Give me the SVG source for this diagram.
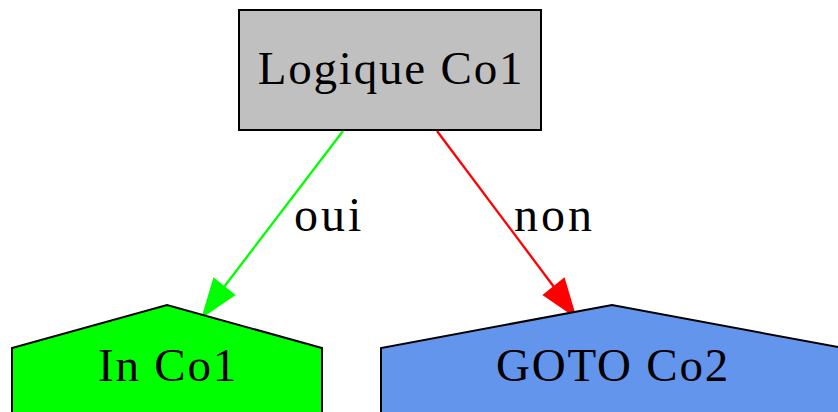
<svg xmlns="http://www.w3.org/2000/svg" width="838" height="412" viewBox="0 0 838 412">
<style>
.lbl{font-family:"Liberation Serif","DejaVu Serif",serif;font-size:47px;fill:#000;text-anchor:middle;letter-spacing:1.8px}
.elbl{font-family:"Liberation Serif","DejaVu Serif",serif;font-size:48px;fill:#000;letter-spacing:3px}
.node{stroke:#000;stroke-width:2}
.edge{fill:none;stroke-width:2.3}
</style>
<rect width="838" height="412" fill="#fff"/>
<g id="edges">
<path class="edge" d="M343,131 L224,287" stroke="#00ff00"/>
<polygon points="234,295 214,279 203,316" fill="#00ff00" stroke="#00ff00" stroke-width="2"/>
<text class="elbl" x="294" y="231">oui</text>
<path class="edge" d="M437,131 L554,287" stroke="#ff0000"/>
<polygon points="544,295 564,279 575,316" fill="#ff0000" stroke="#ff0000" stroke-width="2"/>
<text class="elbl" x="514" y="231">non</text>
</g>
<g id="logique">
<rect class="node" x="239" y="10" width="302" height="120" fill="#c0c0c0" stroke="#333" stroke-width="2.5"/>
<text class="lbl" x="391" y="84">Logique Co1</text>
</g>
<g id="in">
<polygon class="node" points="12,430 12,348 167,305 322,348 322,430" fill="#00ff00"/>
<text class="lbl" x="168" y="381">In Co1</text>
</g>
<g id="goto">
<polygon class="node" points="381,430 381,348 612,305 843,348 843,430" fill="#6495ed"/>
<text class="lbl" x="613" y="381">GOTO Co2</text>
</g>
</svg>
